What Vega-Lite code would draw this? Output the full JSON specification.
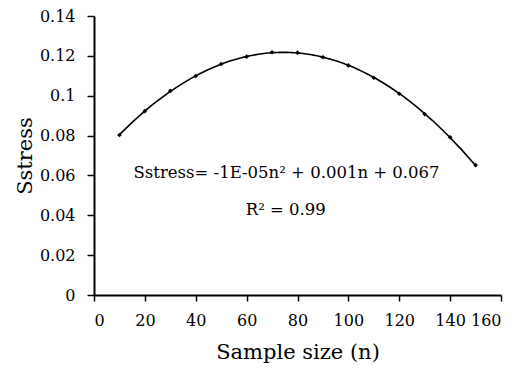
{
  "$schema": "https://vega.github.io/schema/vega-lite/v6.json",
  "width": 407,
  "height": 279,
  "autosize": {"type": "none"},
  "padding": {"left": 94, "top": 16, "right": 17, "bottom": 74},
  "background": "white",
  "config": {
    "view": {"stroke": null},
    "font": "DejaVu Serif",
    "axis": {
      "grid": false,
      "domainColor": "black",
      "domainWidth": 2,
      "tickColor": "black",
      "tickWidth": 1.5,
      "labelColor": "black",
      "titleColor": "black",
      "labelFont": "DejaVu Serif",
      "titleFont": "DejaVu Serif",
      "labelFontSize": 16,
      "titleFontSize": 21,
      "titleFontWeight": "normal",
      "labelOverlap": false
    },
    "text": {"font": "DejaVu Serif"}
  },
  "datasets": {
    "pts": [
      {"n": 10, "s": 0.0803},
      {"n": 20, "s": 0.0923},
      {"n": 30, "s": 0.1024},
      {"n": 40, "s": 0.1099},
      {"n": 50, "s": 0.1159},
      {"n": 60, "s": 0.1196},
      {"n": 70, "s": 0.1218},
      {"n": 80, "s": 0.1216},
      {"n": 90, "s": 0.1193},
      {"n": 100, "s": 0.1152},
      {"n": 110, "s": 0.109},
      {"n": 120, "s": 0.101},
      {"n": 130, "s": 0.0908},
      {"n": 140, "s": 0.0791},
      {"n": 150, "s": 0.0652}
    ],
    "notes": [
      {"n": 75.7, "s": 0.0587, "label": "Sstress= -1E-05n² + 0.001n + 0.067"},
      {"n": 75.4, "s": 0.0401, "label": "R² = 0.99"}
    ]
  },
  "encoding": {
    "x": {"field": "n", "type": "quantitative", "scale": {"domain": [0, 160], "nice": false},
      "axis": {"values": [0, 20, 40, 60, 80, 100, 120, 140, 160], "title": "Sample size (n)", "tickSize": 6, "labelPadding": 11, "titlePadding": 13}},
    "y": {"field": "s", "type": "quantitative", "scale": {"domain": [0, 0.14], "nice": false, "zero": true},
      "axis": {"values": [0, 0.02, 0.04, 0.06, 0.08, 0.1, 0.12, 0.14], "format": "~g", "title": "Sstress", "tickSize": 7, "labelPadding": 12, "titlePadding": 4}}
  },
  "layer": [
    {
      "data": {"name": "pts"},
      "transform": [{"regression": "s", "on": "n", "method": "poly", "order": 2}],
      "mark": {"type": "line", "color": "black", "strokeWidth": 1.6}
    },
    {
      "data": {"name": "pts"},
      "mark": {"type": "point", "shape": "diamond", "filled": true, "color": "black", "size": 22, "opacity": 1}
    },
    {
      "data": {"name": "notes"},
      "mark": {"type": "text", "fontSize": 16.5, "color": "black", "align": "center", "baseline": "alphabetic"},
      "encoding": {
        "text": {"field": "label"}
      }
    }
  ]
}
